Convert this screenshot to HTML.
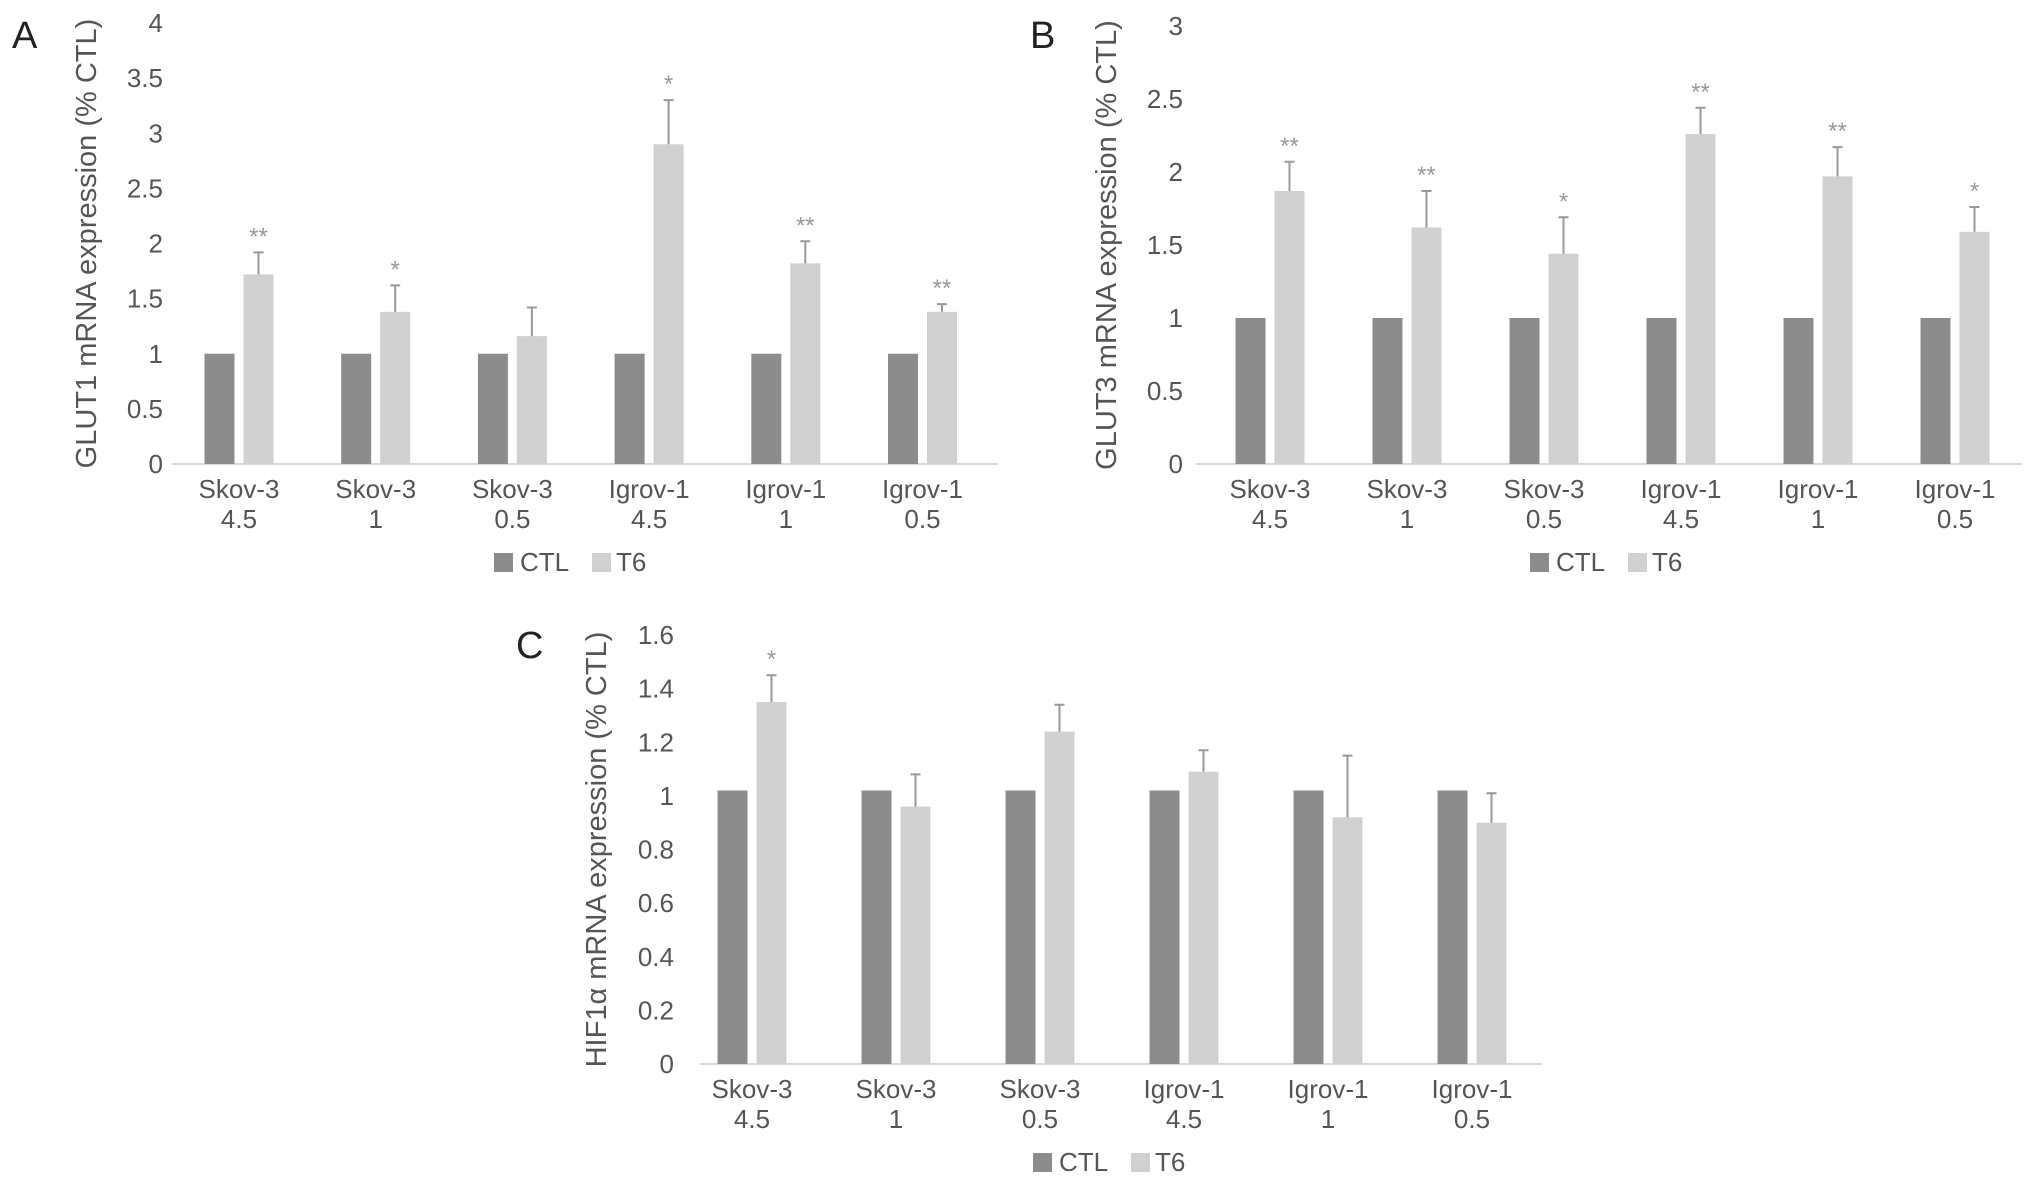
<!DOCTYPE html>
<html><head><meta charset="utf-8">
<style>
html,body{margin:0;padding:0;background:#fff;}
svg{display:block;font-family:"Liberation Sans",sans-serif;}
</style></head>
<body>
<svg id="fig" width="2032" height="1188" viewBox="0 0 2032 1188"></svg>
<script>
const categories1 = ["Skov-3","Skov-3","Skov-3","Igrov-1","Igrov-1","Igrov-1"];
const categories2 = ["4.5","1","0.5","4.5","1","0.5"];
const ctlA = [1,1,1,1,1,1];
const t6A = [1.72,1.38,1.16,2.9,1.82,1.38];
const errA = [1.92,1.62,1.42,3.3,2.02,1.45];
const starsA = ["**","*","","*","**","**"];
const ticksA = [0,0.5,1,1.5,2,2.5,3,3.5,4];
const ctlB = [1,1,1,1,1,1];
const t6B = [1.87,1.62,1.44,2.26,1.97,1.59];
const errB = [2.07,1.87,1.69,2.44,2.17,1.76];
const starsB = ["**","**","*","**","**","*"];
const ticksB = [0,0.5,1,1.5,2,2.5,3];
const ctlC = [1.02,1.02,1.02,1.02,1.02,1.02];
const t6C = [1.35,0.96,1.24,1.09,0.92,0.9];
const errC = [1.45,1.08,1.34,1.17,1.15,1.01];
const starsC = ["*","","","","",""];
const ticksC = [0,0.2,0.4,0.6,0.8,1,1.2,1.4,1.6];

const NS="http://www.w3.org/2000/svg";
const svg=document.getElementById('fig');
function mk(tag,attrs,parent){const e=document.createElementNS(NS,tag);for(const k in attrs)e.setAttribute(k,attrs[k]);(parent||svg).appendChild(e);return e;}

function panel(p){
  const g=mk('g',{});
  
  
  const yS=v=>p.y0-(v/p.ymax)*(p.y0-p.ytop);
  const xS=i=>p.cx0+i*p.step;
  const L=mk('text',{x:p.lx,y:p.ly,'font-size':38,fill:'#222'},g);L.textContent=p.id;
  
  
  p.ticks.forEach(t=>{
    const tx=mk('text',{x:p.tickX,y:yS(t)+9,'font-size':26,fill:'#555','text-anchor':'end'},g);
    tx.textContent=String(t);
    
    
  });
  const ym=(p.y0+p.ytop)/2;
  const yt=mk('text',{x:p.titleX,y:ym,'font-size':29,fill:'#555','text-anchor':'middle',transform:`rotate(-90 ${p.titleX} ${ym})`},g);
  yt.textContent=p.title;
  
  
  const ax=mk('line',{x1:p.ax1,x2:p.ax2,y1:p.y0,y2:p.y0,stroke:'#d9d9d9','stroke-width':2},g);
  
  
  const bw=30,gap=9;
  p.ctl.forEach((v,i)=>{
    const c=xS(i);
    const b1=mk('rect',{x:c-gap/2-bw,y:yS(v),width:bw,height:p.y0-yS(v),fill:'#8c8c8c'},g);
    
    
    const tv=p.t6[i];
    const b2=mk('rect',{x:c+gap/2,y:yS(tv),width:bw,height:p.y0-yS(tv),fill:'#d0d0d0'},g);
    
    
    const ex=c+gap/2+bw/2;
    const e=mk('path',{d:`M${ex} ${yS(tv)} V${yS(p.err[i])} M${ex-5} ${yS(p.err[i])} H${ex+5}`,stroke:'#999','stroke-width':2,fill:'none'},g);
    
    
    if(p.stars[i]){
      const s=mk('text',{x:ex,y:yS(p.err[i])-8,'font-size':24,fill:'#999','text-anchor':'middle'},g);
      s.textContent=p.stars[i];
      
      
    }
    const l1=mk('text',{x:c,y:p.y0+34,'font-size':26,fill:'#555','text-anchor':'middle'},g);
    l1.textContent=categories1[i];
    
    
    const l2=mk('text',{x:c,y:p.y0+64,'font-size':26,fill:'#555','text-anchor':'middle'},g);
    l2.textContent=categories2[i];
    
    
  });
  const ly=p.y0+98;
  const r1=mk('rect',{x:p.legX,y:ly-9,width:19,height:19,fill:'#8c8c8c'},g);
  
  
  const t1=mk('text',{x:p.legX+26,y:ly+9,'font-size':26,fill:'#555'},g);t1.textContent='CTL';
  
  
  const r2=mk('rect',{x:p.legX+98,y:ly-9,width:19,height:19,fill:'#d0d0d0'},g);
  
  
  const t2=mk('text',{x:p.legX+122,y:ly+9,'font-size':26,fill:'#555'},g);t2.textContent='T6';
  
  
}

panel({id:'A',lx:12,ly:48,y0:464,ytop:23,ymax:4,ticks:ticksA,tickX:163,titleX:96,title:'GLUT1 mRNA expression (% CTL)',ax1:172,ax2:998,cx0:239,step:136.7,ctl:ctlA,t6:t6A,err:errA,stars:starsA,legX:494});
panel({id:'B',lx:1030,ly:48,y0:464,ytop:26,ymax:3,ticks:ticksB,tickX:1183,titleX:1116,title:'GLUT3 mRNA expression (% CTL)',ax1:1196,ax2:2022,cx0:1270,step:137,ctl:ctlB,t6:t6B,err:errB,stars:starsB,legX:1530});
panel({id:'C',lx:516,ly:658,y0:1064,ytop:635,ymax:1.6,ticks:ticksC,tickX:674,titleX:606,title:'HIF1\u03b1 mRNA expression (% CTL)',ax1:700,ax2:1542,cx0:752,step:144,ctl:ctlC,t6:t6C,err:errC,stars:starsC,legX:1033});
</script>
</body></html>
